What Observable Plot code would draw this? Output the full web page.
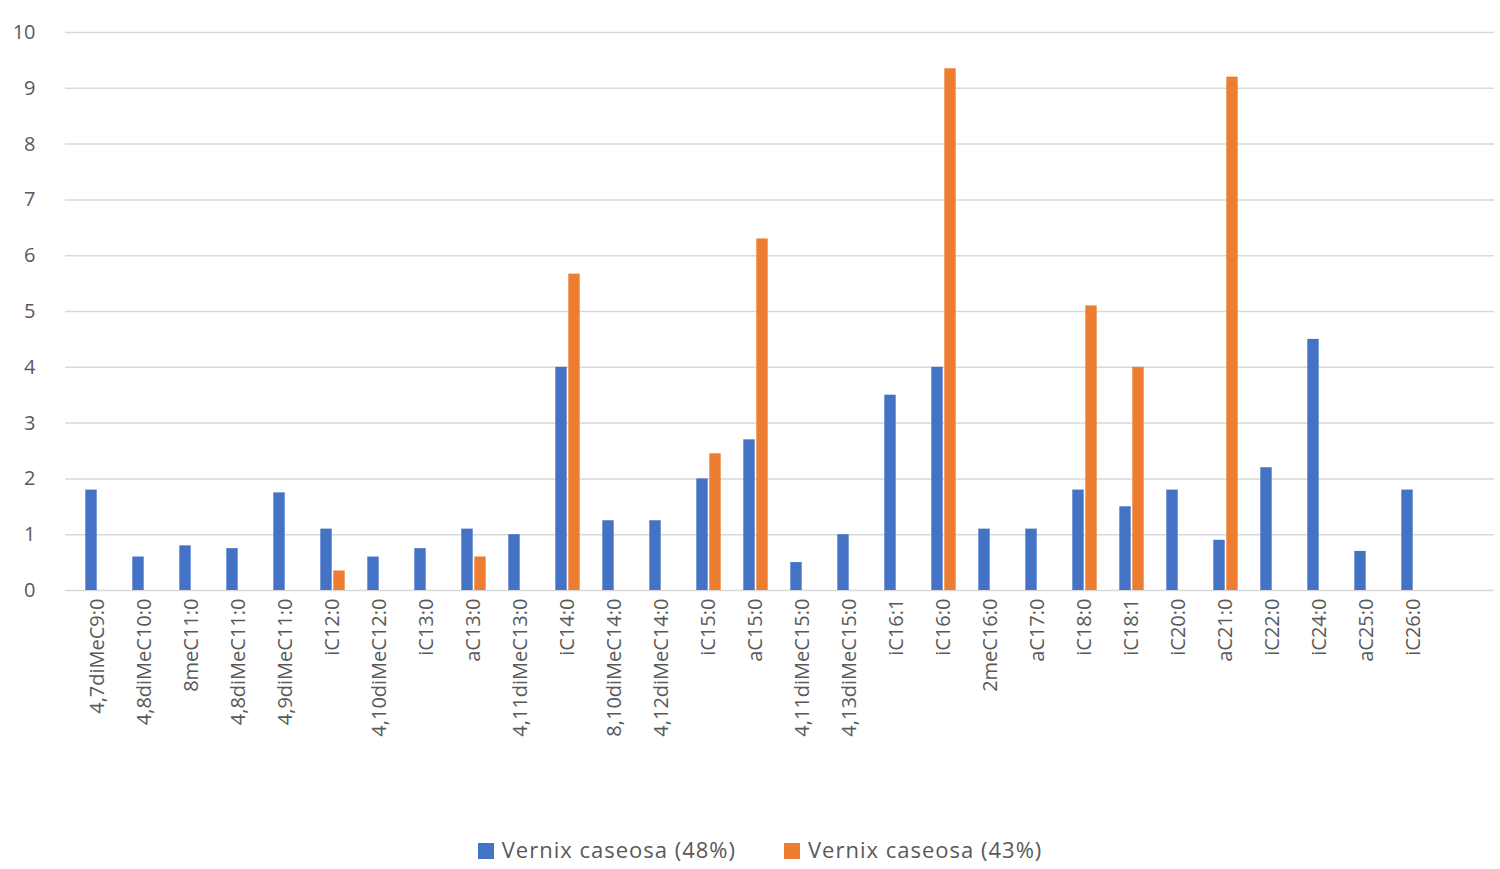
<!DOCTYPE html>
<html><head><meta charset="utf-8">
<script src="https://cdn.jsdelivr.net/npm/d3@7"></script>
<script src="https://cdn.jsdelivr.net/npm/@observablehq/plot@0.6"></script>
<style>
body{margin:0;background:#fff;font-family:"Open Sans",sans-serif;}
#legend{display:flex;justify-content:center;gap:48px;font-size:22px;letter-spacing:1px;color:#595959;margin-top:24px;margin-left:20px}
#legend span.sw{display:inline-block;width:16px;height:16px;margin-right:8px;vertical-align:-1px}
</style></head><body>
<div id="chart"></div>
<div id="legend"><div><span class="sw" style="background:#4472c4"></span>Vernix caseosa (48%)</div><div><span class="sw" style="background:#ed7d31"></span>Vernix caseosa (43%)</div></div>
<script>
const categories=["4,7diMeC9:0","4,8diMeC10:0","8meC11:0","4,8diMeC11:0","4,9diMeC11:0","iC12:0","4,10diMeC12:0","iC13:0","aC13:0","4,11diMeC13:0","iC14:0","8,10diMeC14:0","4,12diMeC14:0","iC15:0","aC15:0","4,11diMeC15:0","4,13diMeC15:0","iC16:1","iC16:0","2meC16:0","aC17:0","iC18:0","iC18:1","iC20:0","aC21:0","iC22:0","iC24:0","aC25:0","iC26:0"];
const series48=[1.8,0.6,0.8,0.75,1.75,1.1,0.6,0.75,1.1,1.0,4.0,1.25,1.25,2.0,2.7,0.5,1.0,3.5,4.0,1.1,1.1,1.8,1.5,1.8,0.9,2.2,4.5,0.7,1.8];
const series43=[null,null,null,null,null,0.35,null,null,0.6,null,5.67,null,null,2.45,6.3,null,null,null,9.35,null,null,5.1,4.0,null,9.2,null,null,null,null];
const yTicks=[0,1,2,3,4,5,6,7,8,9,10];
const d48=categories.map((c,i)=>({c,v:series48[i]}));
const d43=categories.map((c,i)=>({c,v:series43[i]})).filter(d=>d.v!=null);
const chart=Plot.plot({
  width:1500,height:810,marginLeft:65,marginRight:54,marginTop:32,marginBottom:220,
  style:{fontFamily:"Open Sans",fontSize:"20px",color:"#595959",overflow:"visible"},
  x:{domain:categories,padding:0,label:null,tickSize:0,tickRotate:-90,tickPadding:8},
  y:{domain:[0,10],ticks:yTicks,label:null,tickSize:0,tickPadding:30},
  marks:[
    Plot.ruleY(yTicks,{stroke:"#d9d9d9",strokeWidth:1.5,insetRight:-48}),
    Plot.barY(d48,{x:"c",y:"v",fill:"#4472c4",insetLeft:17.8,insetRight:17.8,dx:-6.5}),
    Plot.barY(d43,{x:"c",y:"v",fill:"#ed7d31",insetLeft:17.8,insetRight:17.8,dx:6.5})
  ]
});
document.getElementById("chart").appendChild(chart);
</script></body></html>
